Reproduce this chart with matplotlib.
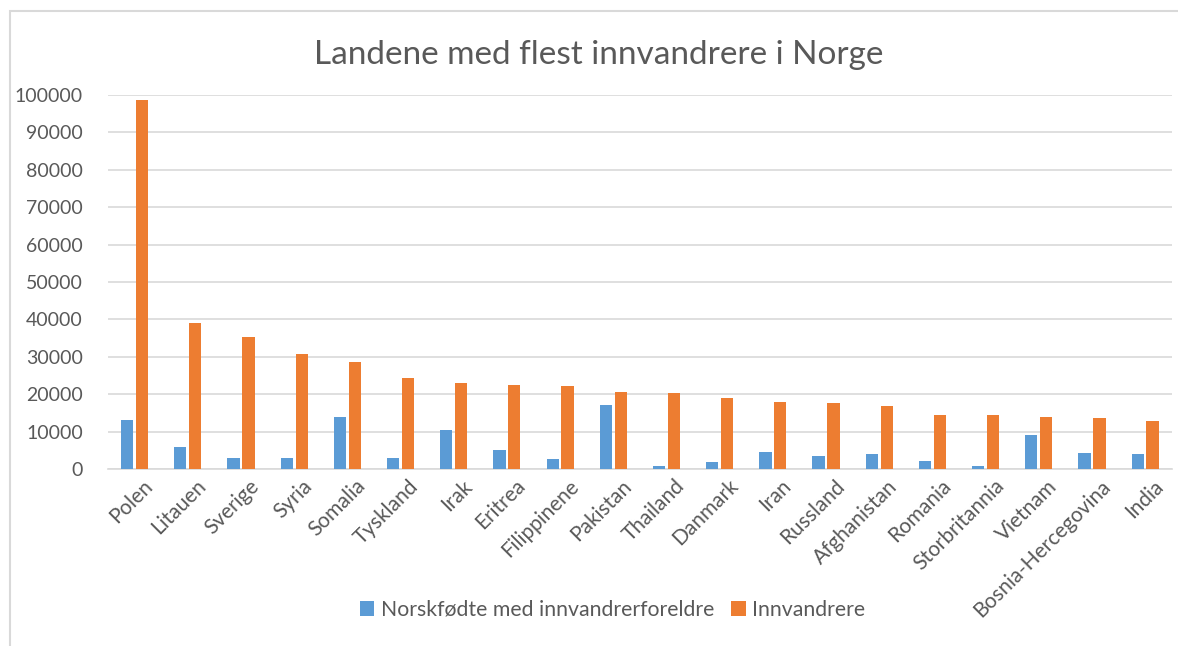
import numpy as np
import matplotlib
matplotlib.use('Agg')
import matplotlib.pyplot as plt
import matplotlib.transforms as mtransforms
from matplotlib.patches import Rectangle

# Data
countries = ['Polen', 'Litauen', 'Sverige', 'Syria', 'Somalia', 'Tyskland', 'Irak',
             'Eritrea', 'Filippinene', 'Pakistan', 'Thailand', 'Danmark', 'Iran',
             'Russland', 'Afghanistan', 'Romania', 'Storbritannia', 'Vietnam',
             'Bosnia-Hercegovina', 'India']
norskfodte = [13100, 6000, 3000, 3050, 13900, 3000, 10500, 5200, 2600, 17200,
              800, 1800, 4500, 3600, 4100, 2100, 800, 9000, 4200, 4100]
innvandrere = [98600, 39100, 35400, 30700, 28500, 24400, 23100, 22400, 22100, 20500,
               20200, 19000, 17800, 17600, 16900, 14400, 14400, 13900, 13600, 12800]
yticks = [0, 10000, 20000, 30000, 40000, 50000, 60000, 70000, 80000, 90000, 100000]

plt.rcParams['font.family'] = ['Lato', 'DejaVu Sans']
grey = '#595959'

fig = plt.figure(figsize=(11.78, 6.46), dpi=100)
ax = fig.add_axes([0.0917, 0.274, 0.903, 0.579])

x = np.arange(len(countries))
w = 0.23
ax.bar(x - 0.14, norskfodte, w, color='#5b9bd5', label='Norskfødte med innvandrerforeldre', zorder=3)
ax.bar(x + 0.14, innvandrere, w, color='#ed7d31', label='Innvandrere', zorder=3)

ax.set_xlim(-0.5, len(countries) - 0.5)
ax.set_ylim(0, 100000)
ax.set_yticks(yticks)
ax.set_yticklabels([str(v) for v in yticks], fontsize=14, color=grey)
ax.set_xticks(x)
ax.set_xticklabels(countries, rotation=45, ha='right', rotation_mode='anchor',
                   fontsize=15, color=grey)
ax.tick_params(axis='y', length=0, pad=18)
ax.tick_params(axis='x', length=0, pad=5)

# nudge rotated labels so they end at the category centre
offset = mtransforms.ScaledTranslation(8 / 100, 0, fig.dpi_scale_trans)
for lbl in ax.get_xticklabels():
    lbl.set_transform(lbl.get_transform() + offset)

ax.yaxis.grid(True, color='#d9d9d9', linewidth=1.2, zorder=0)
for s in ['top', 'right', 'left']:
    ax.spines[s].set_visible(False)
ax.spines['bottom'].set_color('#d9d9d9')
ax.spines['bottom'].set_linewidth(1.2)

fig.text(0.508, 0.915, 'Landene med flest innvandrere i Norge', ha='center', va='center',
         fontsize=24, color=grey)

fig.legend(loc='center', bbox_to_anchor=(0.52, 0.056), ncol=2, frameon=False,
           fontsize=15.3, handlelength=0.7, handleheight=0.7, handletextpad=0.3,
           columnspacing=0.8, labelcolor=grey)

fig.patches.append(Rectangle((10 / 1178, -0.01), 1.0, 1 - 11 / 646 + 0.01,
                             transform=fig.transFigure, fill=False,
                             edgecolor='#d9d9d9', linewidth=1.5))

fig.savefig('out.png', dpi=100)
